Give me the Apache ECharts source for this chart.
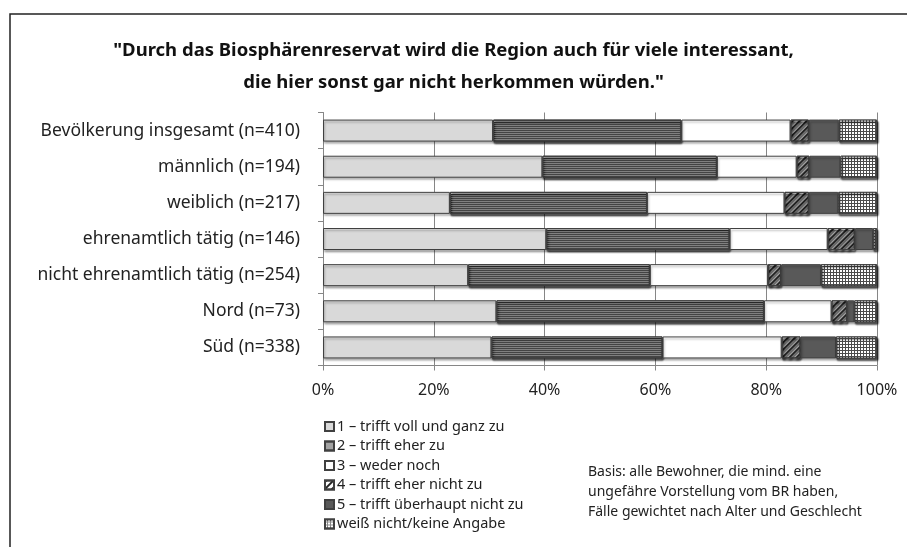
<!DOCTYPE html>
<html>
<head>
<meta charset="utf-8">
<script src="https://cdn.jsdelivr.net/npm/echarts@6/dist/echarts.min.js"></script>
<style>
  html, body { margin: 0; padding: 0; background: #fff; }
  #main { width: 907px; height: 547px; }
</style>
</head>
<body>
<div id="main"></div>
<script>
var categories = [
    'Bevölkerung insgesamt (n=410)',
    'männlich (n=194)',
    'weiblich (n=217)',
    'ehrenamtlich tätig (n=146)',
    'nicht ehrenamtlich tätig (n=254)',
    'Nord (n=73)',
    'Süd (n=338)'
];
var seriesNames = [
    '1 – trifft voll und ganz zu',
    '2 – trifft eher zu',
    '3 – weder noch',
    '4 – trifft eher nicht zu',
    '5 – trifft überhaupt nicht zu',
    'weiß nicht/keine Angabe'
];
// percentages per answer, one value per category (top to bottom)
var voll = [30.7, 39.6, 22.9, 40.3, 26.2, 31.3, 30.4];
var eher = [34.0, 31.5, 35.6, 33.1, 32.8, 48.3, 30.9];
var weder = [19.7, 14.4, 24.8, 17.7, 21.3, 12.2, 21.5];
var eherNicht = [3.3, 2.3, 4.4, 4.9, 2.4, 2.8, 3.4];
var ueberhauptNicht = [5.4, 5.6, 5.3, 3.3, 7.2, 1.3, 6.4];
var weissNicht = [6.9, 6.6, 7.0, 0.7, 10.1, 4.1, 7.4];
var xTicks = [0, 20, 40, 60, 80, 100];

var chart = echarts.init(document.getElementById('main'));
var font = 'Noto Sans';

var styles = [
    { color: '#d9d9d9' },
    { color: '#ffffff', decal: { symbol: 'rect', symbolSize: 1, color: '#444', dashArrayX: [1, 0], dashArrayY: [1, 1], rotation: 0 } },
    { color: '#ffffff' },
    { color: '#ffffff', decal: { symbol: 'rect', symbolSize: 1, color: '#222', dashArrayX: [1, 0], dashArrayY: [2, 3], rotation: -Math.PI / 4 } },
    { color: '#595959' },
    { color: '#888888', decal: { symbol: 'rect', symbolSize: 1, color: '#ffffff', dashArrayX: [2, 1], dashArrayY: [2, 1], rotation: 0 } }
];
var values = [voll, eher, weder, eherNicht, ueberhauptNicht, weissNicht];

var series = seriesNames.map(function (name, i) {
    return {
        name: name,
        type: 'bar',
        stack: 'all',
        barWidth: 22,
        data: values[i],
        itemStyle: Object.assign({
            borderColor: '#404040',
            borderWidth: 1,
            shadowColor: 'rgba(0,0,0,0.3)',
            shadowBlur: 2,
            shadowOffsetX: 1,
            shadowOffsetY: 2
        }, styles[i])
    };
});

option = {
    animation: false,
    title: {
        text: '"Durch das Biosphärenreservat wird die Region auch für viele interessant,\ndie hier sonst gar nicht herkommen würden."',
        left: 'center',
        top: 30,
        textStyle: {
            fontFamily: font,
            fontSize: 18.5,
            fontWeight: 'bold',
            color: '#111',
            lineHeight: 32
        }
    },
    legend: {
        orient: 'vertical',
        left: 319,
        top: 414,
        icon: 'rect',
        itemWidth: 9,
        itemHeight: 9,
        itemGap: 4.5,
        selectedMode: false,
        data: seriesNames,
        textStyle: {
            fontFamily: font,
            fontSize: 14.5,
            color: '#222',
            padding: [0, 0, 0, -2]
        }
    },
    grid: {
        left: 323,
        right: 30,
        top: 112.5,
        bottom: 181.5
    },
    xAxis: {
        type: 'value',
        min: xTicks[0],
        max: xTicks[xTicks.length - 1],
        interval: 20,
        axisLine: { show: true, lineStyle: { color: '#868686' } },
        axisTick: { show: true, length: 5, lineStyle: { color: '#868686' } },
        splitLine: { show: true, lineStyle: { color: '#868686', width: 1 } },
        axisLabel: {
            formatter: '{value}%',
            margin: 17,
            fontFamily: font,
            fontSize: 16,
            color: '#222'
        }
    },
    yAxis: {
        type: 'category',
        inverse: true,
        data: categories,
        axisLine: { show: true, lineStyle: { color: '#868686' } },
        axisTick: { show: true, length: 5, lineStyle: { color: '#868686' } },
        axisLabel: {
            margin: 23,
            fontFamily: font,
            fontSize: 17.5,
            color: '#222'
        }
    },
    graphic: [
        {
            type: 'rect',
            silent: true,
            shape: { x: 10, y: 14, width: 1000, height: 1000 },
            style: { fill: 'none', stroke: '#222', lineWidth: 1.5 }
        },
        {
            type: 'text',
            left: 588,
            top: 462,
            style: {
                text: 'Basis: alle Bewohner, die mind. eine\nungefähre Vorstellung vom BR haben,\nFälle gewichtet nach Alter und Geschlecht',
                font: '14px "Noto Sans"',
                lineHeight: 20,
                fill: '#222'
            }
        }
    ],
    series: series
};

chart.setOption(option);
</script>
</body>
</html>
